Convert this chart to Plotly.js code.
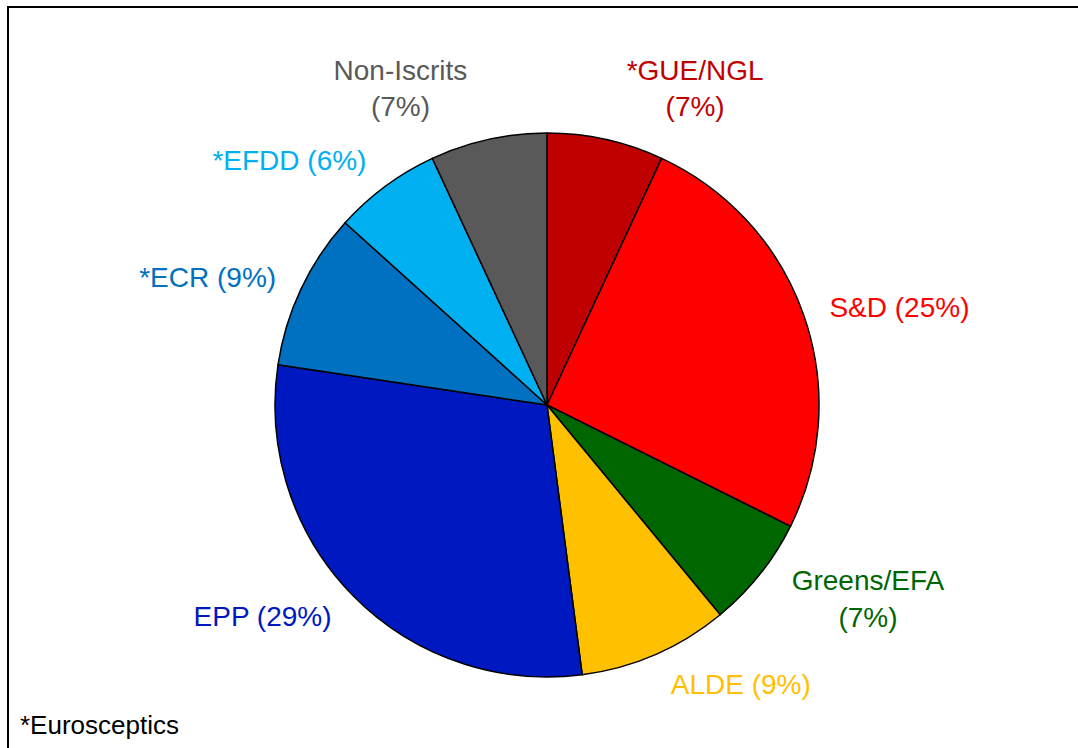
<!DOCTYPE html>
<html>
<head>
<meta charset="utf-8">
<script src="https://cdn.plot.ly/plotly-3.0.1.min.js"></script>
<style>html,body{margin:0;padding:0;background:#fff;}#chart{width:1078px;height:748px;}</style>
</head>
<body>
<div id="chart"></div>
<script>
const groups = ["*GUE/NGL", "S&D", "Greens/EFA", "ALDE", "EPP", "*ECR", "*EFDD", "Non-Iscrits"];
const seats = [52, 191, 50, 67, 221, 70, 48, 52];
const shownPct = ["7%", "25%", "7%", "9%", "29%", "9%", "6%", "7%"];
const lineBreak = [true, false, true, false, false, false, false, true];
const sliceColors = ["#C00000", "#FF0000", "#006600", "#FFC000", "#0018C0", "#0070C0", "#00B0F0", "#595959"];
const labelColors = ["#C00000", "#FF0000", "#006600", "#FFC000", "#0018C0", "#0070C0", "#00B0F0", "#595959"];
const footnote = "*Eurosceptics";

const labelText = groups.map((g, i) => g + (lineBreak[i] ? "<br>" : " ") + "(" + shownPct[i] + ")");

const W = 1078, H = 748;
const cx = 547, cy = 405, r = 272, rLab = 291;
const dom = (rad) => ({ x: [(cx - rad) / W, (cx + rad) / W], y: [1 - (cy + rad) / H, 1 - (cy - rad) / H] });

const pieTrace = {
  type: "pie",
  labels: groups,
  values: seats,
  textinfo: "none",
  sort: false,
  direction: "clockwise",
  rotation: 0,
  marker: { colors: sliceColors, line: { color: "#000000", width: 1.5 } },
  domain: dom(r),
  showlegend: false
};

const labelTrace = {
  type: "pie",
  labels: groups,
  values: seats,
  text: labelText,
  textinfo: "text",
  textposition: "outside",
  texttemplate: "%{text}",
  sort: false,
  direction: "clockwise",
  rotation: 0,
  marker: { colors: groups.map(() => "rgba(0,0,0,0)"), line: { width: 0 } },
  outsidetextfont: { family: "Liberation Sans, Arial, sans-serif", size: 28, color: labelColors },
  domain: dom(rLab),
  showlegend: false
};

const layout = {
  width: W, height: H,
  margin: { l: 0, r: 0, t: 0, b: 0 },
  paper_bgcolor: "#ffffff",
  font: { family: "Liberation Sans, Arial, sans-serif" },
  shapes: [{
    type: "rect", xref: "paper", yref: "paper",
    x0: 8 / W, x1: 1.02, y0: -0.02, y1: 1 - 7 / H,
    line: { color: "#000000", width: 2 }, fillcolor: "rgba(0,0,0,0)"
  }],
  annotations: [{
    text: footnote, xref: "paper", yref: "paper",
    x: 18 / W, y: 1 - 725 / H, xanchor: "left", yanchor: "middle",
    showarrow: false, font: { size: 26, color: "#000000", family: "Liberation Sans, Arial, sans-serif" }
  }]
};

Plotly.newPlot("chart", [labelTrace, pieTrace], layout, { displayModeBar: false, staticPlot: true });
</script>
</body>
</html>
